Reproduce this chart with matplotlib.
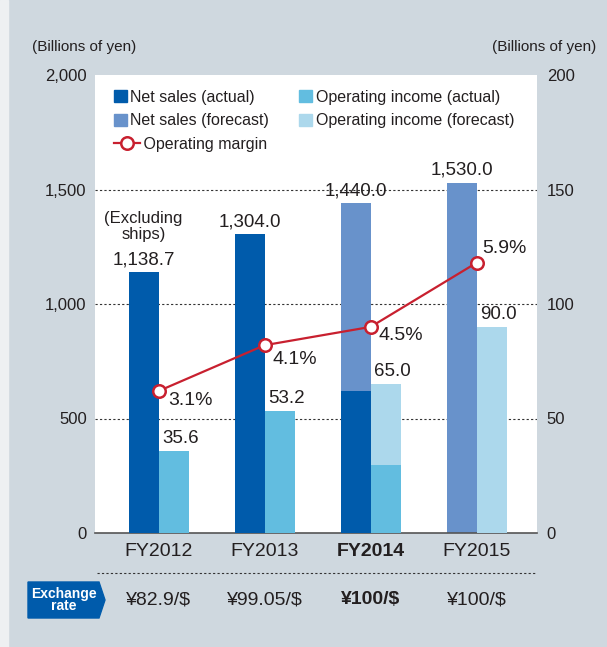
import matplotlib
matplotlib.use('Agg')
import matplotlib.pyplot as plt
from matplotlib.patches import Patch, Rectangle, Polygon
from matplotlib.lines import Line2D
from matplotlib.legend_handler import HandlerLine2D
import numpy as np

plt.rcParams['font.family'] = ['Liberation Sans', 'DejaVu Sans']

# data
years = ['FY2012', 'FY2013', 'FY2014', 'FY2015']
net_sales_actual = [1138.7, 1304.0, 620.0, 0]
net_sales_forecast = [0, 0, 1440.0, 1530.0]
net_sales_labels = ['1,138.7', '1,304.0', '1,440.0', '1,530.0']
op_income_actual = [35.6, 53.2, 29.7, 0]
op_income_forecast = [0, 0, 65.0, 90.0]
op_income_labels = ['35.6', '53.2', '65.0', '90.0']
op_margin = [3.1, 4.1, 4.5, 5.9]
exchange_rates = ['¥82.9/$', '¥99.05/$', '¥100/$', '¥100/$']
left_ticks = [0, 500, 1000, 1500, 2000]
right_ticks = [0, 50, 100, 150, 200]

# colours
c_ns_act = '#005bab'
c_ns_fc = '#6892cb'
c_oi_act = '#62bde0'
c_oi_fc = '#acd8ec'
c_red = '#c8202f'
c_text = '#231f20'
bg = '#cfd8df'

W, H = 607, 647


def px(x, y):
    # pixel position (from top-left) -> figure fraction
    return (x / W, 1 - y / H)


class WideLine(HandlerLine2D):
    # the margin handle is drawn wider than the square patches
    def create_artists(self, legend, orig_handle, xdescent, ydescent,
                       width, height, fontsize, trans):
        return super().create_artists(legend, orig_handle, xdescent, ydescent,
                                      width + 9, height, fontsize, trans)


fig = plt.figure(figsize=(W / 100, H / 100), dpi=100, facecolor=bg)
fig.patches.append(Rectangle((0, 0), 8 / W, 1, transform=fig.transFigure,
                             color='#eef0f2', zorder=0))

ax = fig.add_axes([95 / W, 1 - 533 / H, 442 / W, 458 / H])
ax.set_facecolor('white')
ax2 = ax.twinx()
ax3 = ax.twinx()

x = np.arange(len(years))
w = 0.283

# net sales (left axis)
ax.bar(x - w / 2, net_sales_forecast, w, color=c_ns_fc, zorder=2)
ax.bar(x - w / 2, net_sales_actual, w, color=c_ns_act, zorder=3)
ns_total = np.maximum(net_sales_actual, net_sales_forecast)
for i, v in enumerate(ns_total):
    ax.annotate(net_sales_labels[i], (x[i] - w / 2, v), xytext=(0, 3),
                textcoords='offset points', ha='center', va='bottom',
                fontsize=13.5, color=c_text, zorder=5)
ax.annotate('(Excluding\nships)', (x[0] - w / 2, ns_total[0]), xytext=(0, 22),
            textcoords='offset points', ha='center', va='bottom',
            fontsize=12, color=c_text, linespacing=1.05)

for v in left_ticks[1:-1]:
    ax.axhline(v, color='#333333', lw=0.8, ls=(0, (2, 2)), zorder=0.5)

ax.set_xlim(-0.6, 3.57)
ax.set_ylim(0, 2000)
ax.set_yticks(left_ticks)
ax.set_yticklabels([f'{t:,}' for t in left_ticks])
ax.set_xticks(x)
ax.set_xticklabels(years)
ax.tick_params(axis='y', length=0, pad=6, labelsize=12, labelcolor=c_text)
ax.tick_params(axis='x', length=0, pad=7, labelsize=14, labelcolor=c_text)
ax.get_xticklabels()[2].set_fontweight('bold')
for s in ['top', 'left', 'right']:
    ax.spines[s].set_visible(False)
ax.spines['bottom'].set_color('#555555')
ax.spines['bottom'].set_linewidth(1.2)

# operating income (right axis)
ax2.bar(x + w / 2, op_income_forecast, w, color=c_oi_fc, zorder=2)
ax2.bar(x + w / 2, op_income_actual, w, color=c_oi_act, zorder=3)
oi_total = np.maximum(op_income_actual, op_income_forecast)
for i, v in enumerate(oi_total):
    ax2.annotate(op_income_labels[i], (x[i] + w / 2, v), xytext=(5, 3),
                 textcoords='offset points', ha='center', va='bottom',
                 fontsize=13.5, color=c_text)
ax2.set_ylim(0, 200)
ax2.set_yticks(right_ticks)
ax2.tick_params(axis='y', length=0, pad=7, labelsize=12, labelcolor=c_text)
for s in ax2.spines.values():
    s.set_visible(False)

# operating margin (hidden axis, 0-10%)
ax3.plot(x, op_margin, color=c_red, lw=1.6, marker='o', ms=9,
         mfc='white', mec=c_red, mew=1.8, zorder=4)
margin_offsets = [(7, -7), (6, -10), (6, -6), (4, 10)]
for i, m in enumerate(op_margin):
    ax3.annotate(f'{m}%', (x[i], m), xytext=margin_offsets[i],
                 textcoords='offset points', ha='left', va='center',
                 fontsize=14, color=c_text)
ax3.set_ylim(0, 10)
ax3.set_yticks([])
for s in ax3.spines.values():
    s.set_visible(False)

margin_handle = Line2D([], [], color=c_red, lw=1.6, marker='o', ms=9,
                       mfc='white', mec=c_red, mew=1.8)
handles = [
    Patch(color=c_ns_act, label='Net sales (actual)'),
    Patch(color=c_ns_fc, label='Net sales (forecast)'),
    margin_handle,
    Patch(color=c_oi_act, label='Operating income (actual)'),
    Patch(color=c_oi_fc, label='Operating income (forecast)'),
]
labels = [h.get_label() for h in handles]
labels[2] = '   Operating margin'
leg = ax3.legend(handles=handles, labels=labels, ncol=2, loc='upper left',
                 bbox_to_anchor=(0.042, 0.968), frameon=False, fontsize=11.5,
                 handlelength=0.85, handleheight=0.85, handletextpad=0.2,
                 columnspacing=1.85, labelspacing=0.55, borderpad=0,
                 borderaxespad=0, handler_map={margin_handle: WideLine()})
for t in leg.get_texts():
    t.set_color(c_text)

# unit labels
fig.text(*px(32, 47), '(Billions of yen)', ha='left', va='center',
         fontsize=11, color=c_text)
fig.text(*px(596, 47), '(Billions of yen)', ha='right', va='center',
         fontsize=11, color=c_text)

# separator and exchange rates
fig.add_artist(Line2D([97 / W, 537 / W], [1 - 573 / H, 1 - 573 / H],
                      transform=fig.transFigure, color='#333333', lw=0.8,
                      ls=(0, (2, 2))))
trans = ax.get_xaxis_transform()
for i, r in enumerate(exchange_rates):
    ax.text(x[i], (533 - 600) / 458, r, transform=trans, ha='center',
            va='center', fontsize=14, color=c_text,
            fontweight='bold' if i == 2 else 'normal', clip_on=False)

badge = Polygon([px(28, 582), px(99, 582), px(105, 600), px(99, 618), px(28, 618)],
                closed=True, transform=fig.transFigure, color=c_ns_act)
fig.patches.append(badge)
fig.text(*px(64, 600), 'Exchange\nrate', ha='center', va='center',
         fontsize=10, fontweight='bold', color='white', linespacing=0.9)

fig.savefig('out.png', dpi=100, facecolor=fig.get_facecolor())
